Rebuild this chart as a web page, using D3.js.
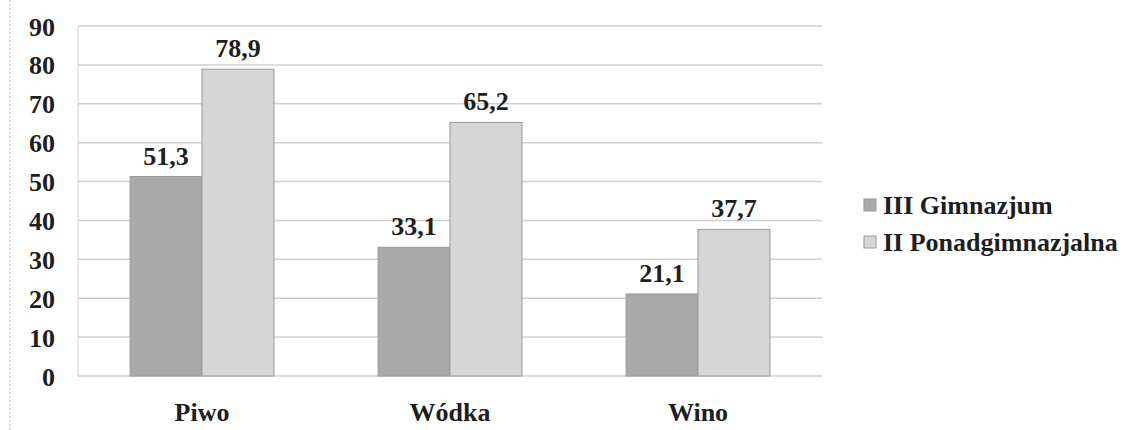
<!DOCTYPE html>
<html>
<head>
<meta charset="utf-8">
<script src="https://cdn.jsdelivr.net/npm/d3@7"></script>
<style>
  body { margin: 0; background: #fff; }
  text { font-family: "Liberation Serif", "Times New Roman", serif; font-weight: bold; fill: #1e1e1e; }
</style>
</head>
<body>
<div id="chart"></div>
<script>
const categories = ['Piwo', 'Wódka', 'Wino'];
const seriesNames = ['III Gimnazjum', 'II Ponadgimnazjalna'];
const gimnazjum = [51.3, 33.1, 21.1];
const ponadgim = [78.9, 65.2, 37.7];
const yTicks = [0, 10, 20, 30, 40, 50, 60, 70, 80, 90];
const colors = ['#a9a9a9', '#d6d6d6'];

function draw() {
	const width = 1140, height = 430;
	const margin = { top: 26, left: 78, right: 318, bottom: 54 };
	const plotW = width - margin.left - margin.right;
	const plotH = height - margin.top - margin.bottom;

	var $svg = d3.select('#chart').append('svg')
		.attr('width', width)
		.attr('height', height);

	// scan artifact line on the left edge
	$svg.append('line')
		.attr('x1', 10).attr('x2', 10)
		.attr('y1', 0).attr('y2', height)
		.attr('stroke', '#bbb')
		.attr('stroke-dasharray', '2,2');

	var $g = $svg.append('g')
		.attr('transform', `translate(${margin.left},${margin.top})`);

	const x = d3.scaleBand()
		.domain(categories)
		.range([0, plotW])
		.paddingInner(0.42)
		.paddingOuter(0.21);
	const x1 = d3.scaleBand()
		.domain(seriesNames)
		.range([0, x.bandwidth()]);
	const y = d3.scaleLinear()
		.domain([0, 90])
		.range([plotH, 0]);

	// gridlines
	$g.append('g')
		.selectAll('line')
		.data(yTicks)
		.enter()
		.append('line')
		.attr('x1', 0)
		.attr('x2', plotW)
		.attr('y1', d => y(d))
		.attr('y2', d => y(d))
		.attr('stroke', '#d0d0d0')
		.attr('stroke-width', 1.5);

	$g.append('line')
		.attr('x1', 0).attr('x2', 0)
		.attr('y1', 0).attr('y2', plotH)
		.attr('stroke', '#d0d0d0');

	// y axis
	const yAxis = d3.axisLeft(y).tickValues(yTicks).tickSize(0).tickPadding(23);
	var $yAxis = $g.append('g').call(yAxis);
	$yAxis.select('.domain').remove();
	$yAxis.selectAll('text')
		.style('font-size', '26px')
		.style('font-family', '"Liberation Serif", serif')
		.style('font-weight', 'bold')
		.attr('fill', '#1e1e1e')
		.attr('dy', '0.35em');

	// x axis
	const xAxis = d3.axisBottom(x).tickSize(0).tickPadding(27);
	var $xAxis = $g.append('g')
		.attr('transform', `translate(0,${plotH})`)
		.call(xAxis);
	$xAxis.select('.domain').remove();
	$xAxis.selectAll('text')
		.style('font-size', '26px')
		.style('font-family', '"Liberation Serif", serif')
		.style('font-weight', 'bold')
		.attr('fill', '#1e1e1e');

	const rows = categories.map((c, i) => ({
		cat: c,
		vals: [
			{ s: seriesNames[0], v: gimnazjum[i], c: colors[0] },
			{ s: seriesNames[1], v: ponadgim[i], c: colors[1] }
		]
	}));

	var $groups = $g.selectAll('.grp')
		.data(rows)
		.enter()
		.append('g')
		.attr('transform', d => `translate(${x(d.cat)},0)`);

	$groups.selectAll('rect')
		.data(d => d.vals)
		.enter()
		.append('rect')
		.attr('x', d => x1(d.s))
		.attr('y', d => y(d.v))
		.attr('width', x1.bandwidth())
		.attr('height', d => plotH - y(d.v))
		.attr('fill', d => d.c)
		.attr('stroke', '#9a9a9a')
		.attr('stroke-width', 1);

	$groups.selectAll('.lbl')
		.data(d => d.vals)
		.enter()
		.append('text')
		.attr('x', d => x1(d.s) + x1.bandwidth() / 2)
		.attr('y', d => y(d.v) - 12)
		.attr('text-anchor', 'middle')
		.style('font-size', '26px')
		.text(d => d3.format('.1f')(d.v).replace('.', ','));

	// legend
	var $legend = $svg.append('g')
		.attr('transform', 'translate(864,205)');
	seriesNames.forEach((name, i) => {
		var $item = $legend.append('g')
			.attr('transform', `translate(0,${i * 37})`);
		$item.append('rect')
			.attr('x', 0).attr('y', -6)
			.attr('width', 12).attr('height', 12)
			.attr('fill', colors[i])
			.attr('stroke', '#999');
		$item.append('text')
			.attr('x', 19)
			.attr('dy', '0.35em')
			.style('font-size', '26px')
			.text(name);
	});
}

draw();
</script>
</body>
</html>
